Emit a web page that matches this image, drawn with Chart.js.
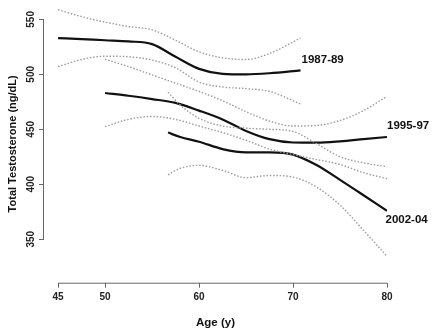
<!DOCTYPE html>
<html>
<head>
<meta charset="utf-8">
<script src="https://cdn.jsdelivr.net/npm/chart.js@4"></script>
<style>
  html, body { margin: 0; padding: 0; background: #fff; }
  #wrap { width: 435px; height: 334px; }
</style>
</head>
<body>
<div id="wrap"><canvas id="tChart"></canvas></div>
<script>
// values (total testosterone by age, three cohorts)
const ages87 = [45, 47.5, 50, 52.5, 55, 57.5, 60, 62.5, 65, 67.5, 70.8];
const mean87 = [533, 532, 531, 530, 527.5, 516, 505, 500.5, 500, 501, 503.6];
const upper87 = [558.8, 552.5, 547.5, 543.5, 540.5, 531, 520.5, 515, 513.5, 519, 533];
const lower87 = [507, 513.5, 516.5, 516, 513, 506, 493, 488.5, 487, 484.5, 473];

const ages95 = [50, 52.5, 55, 57.5, 60, 62.5, 65, 67.5, 70, 72.5, 75, 77.5, 80];
const mean95 = [483, 480.5, 477.5, 474, 467, 459, 448.5, 441, 438, 437.8, 439, 441, 443];
const upper95 = [513.8, 507, 499.5, 492, 484.5, 476, 466, 457.5, 453, 453.5, 458, 467, 480];
const lower95 = [452.5, 459, 461.7, 459, 453, 447, 440, 432, 427, 422.5, 418, 410.5, 405];

const ages02 = [56.7, 58, 60, 62.5, 65, 67.5, 70, 72.5, 75, 77.5, 80];
const mean02 = [447, 443, 438.7, 432, 429, 429, 427, 417.5, 404, 390, 375.8];
const upper02 = [483.7, 472, 460, 453, 451, 450, 448, 437, 425, 419.5, 416];
const lower02 = [408.6, 414.5, 417.2, 412.6, 406, 408, 406.5, 397.5, 381, 358, 334.4];

const cohortLabels = ['1987-89', '1995-97', '2002-04'];
const xTicks = [45, 50, 60, 70, 80];
const yTicks = [350, 400, 450, 500, 550];

const FONT = '"Liberation Sans", Arial, Helvetica, sans-serif';
Chart.defaults.font.family = FONT;

function pts(ages, vals) {
  return ages.map((a, i) => ({ x: a, y: vals[i] }));
}

function meanLine(ages, vals) {
  return {
    data: pts(ages, vals),
    borderColor: '#111',
    borderWidth: 2.2,
    pointRadius: 0,
    cubicInterpolationMode: 'monotone',
    fill: false
  };
}

function ciLine(ages, vals) {
  return {
    data: pts(ages, vals),
    borderColor: '#9c9c9c',
    borderWidth: 1.4,
    borderDash: [1.5, 1.8],
    pointRadius: 0,
    cubicInterpolationMode: 'monotone',
    fill: false
  };
}

// R-style detached axis lines (only from first to last tick)
const axisLines = {
  id: 'axisLines',
  afterDraw(chart) {
    const { ctx, chartArea, scales: { x, y } } = chart;
    ctx.save();
    ctx.strokeStyle = '#666';
    ctx.lineWidth = 1;
    ctx.beginPath();
    ctx.moveTo(x.getPixelForValue(xTicks[0]), chartArea.bottom + 0.5);
    ctx.lineTo(x.getPixelForValue(xTicks[xTicks.length - 1]), chartArea.bottom + 0.5);
    ctx.moveTo(chartArea.left - 0.5, y.getPixelForValue(yTicks[0]));
    ctx.lineTo(chartArea.left - 0.5, y.getPixelForValue(yTicks[yTicks.length - 1]));
    ctx.stroke();
    ctx.restore();
  }
};

// cohort names next to the end of each mean curve
const endLabels = {
  id: 'endLabels',
  afterDatasetsDraw(chart) {
    const { ctx, scales: { x, y } } = chart;
    const ends = [
      [ages87, mean87, 1, -10.5],
      [ages95, mean95, 0, -11.5],
      [ages02, mean02, -1.5, 8.5]
    ];
    ctx.save();
    ctx.font = 'bold 11.5px ' + FONT;
    ctx.fillStyle = '#111';
    ctx.textBaseline = 'middle';
    ctx.textAlign = 'left';
    ends.forEach(([ages, vals, dx, dy], i) => {
      const n = ages.length - 1;
      const px = x.getPixelForValue(ages[n]);
      const py = y.getPixelForValue(vals[n]);
      ctx.fillText(cohortLabels[i], px + dx, py + dy);
    });
    ctx.restore();
  }
};

new Chart(document.getElementById('tChart'), {
  type: 'line',
  data: {
    datasets: [
      ciLine(ages87, upper87), ciLine(ages87, lower87),
      ciLine(ages95, upper95), ciLine(ages95, lower95),
      ciLine(ages02, upper02), ciLine(ages02, lower02),
      meanLine(ages87, mean87),
      meanLine(ages95, mean95),
      meanLine(ages02, mean02)
    ]
  },
  options: {
    responsive: true,
    maintainAspectRatio: false,
    animation: false,
    layout: { padding: { top: 0, right: 48, bottom: 0, left: 0 } },
    plugins: { legend: { display: false }, tooltip: { enabled: false } },
    scales: {
      x: {
        type: 'linear',
        min: 43.5,
        max: 80,
        afterBuildTicks: s => { s.ticks = xTicks.map(v => ({ value: v })); },
        afterFit: s => { s.height = 51.3; },
        border: { display: false },
        grid: { drawOnChartArea: false, tickLength: 5, color: '#666' },
        ticks: { padding: 4, maxRotation: 0, autoSkip: false, color: '#222', font: { size: 10, weight: 'bold' } },
        title: { display: true, text: 'Age (y)', color: '#111', font: { size: 11.5, weight: 'bold' }, padding: { top: 0, bottom: 4 } }
      },
      y: {
        type: 'linear',
        min: 310.4,
        max: 563.1,
        afterBuildTicks: s => { s.ticks = yTicks.map(v => ({ value: v })); },
        afterFit: s => { s.width = 44; },
        border: { display: false },
        grid: { drawOnChartArea: false, tickLength: 5, color: '#666' },
        ticks: { minRotation: 90, maxRotation: 90, crossAlign: 'center', padding: -1, color: '#222', font: { size: 10, weight: 'bold' } },
        title: { display: true, text: 'Total Testosterone (ng/dL)', color: '#111', font: { size: 11, weight: 'bold' }, padding: { top: 6, bottom: 0 } }
      }
    }
  },
  plugins: [axisLines, endLabels]
});
</script>
</body>
</html>
